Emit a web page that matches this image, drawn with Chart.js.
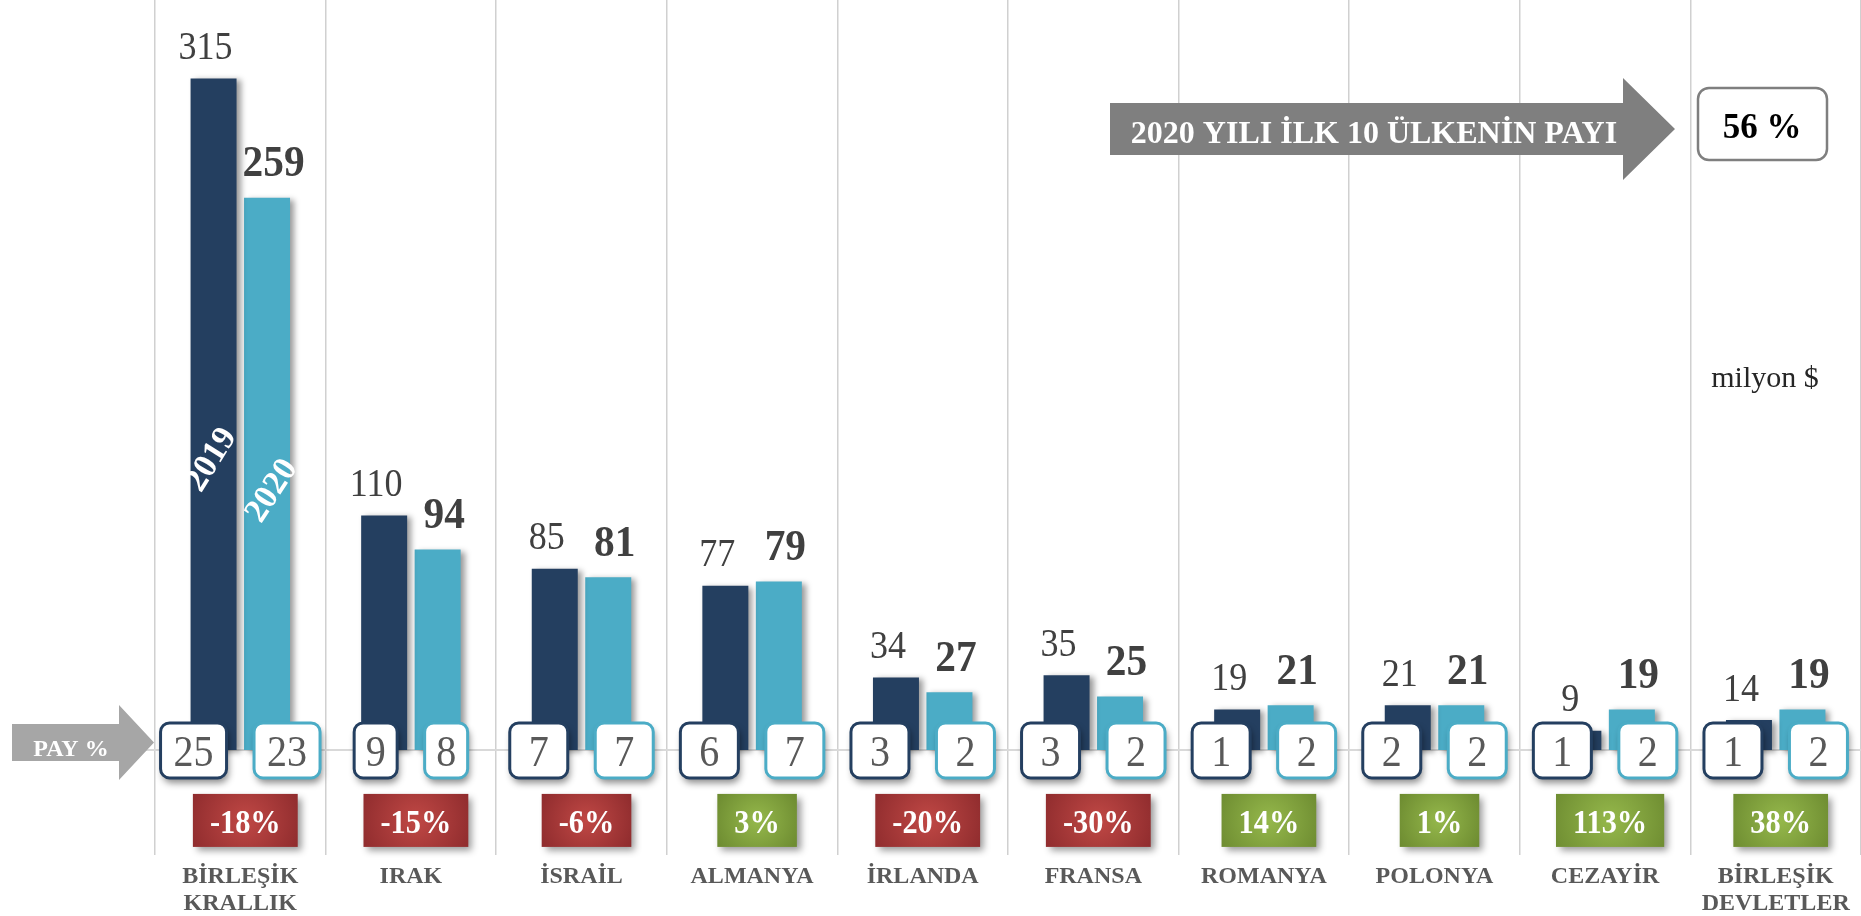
<!DOCTYPE html>
<html>
<head>
<meta charset="utf-8">
<title>2020 yılı ilk 10 ülke</title>
<script src="https://cdn.jsdelivr.net/npm/chart.js@4.4.1/dist/chart.umd.min.js"></script>
<style>
  html, body { margin: 0; padding: 0; background: #fff; }
  #wrap { width: 1861px; height: 916px; position: relative; }
</style>
</head>
<body>
<div id="wrap"><canvas id="chart"></canvas></div>
<script>
var categories = [["BİRLEŞİK", "KRALLIK"], "IRAK", "İSRAİL", "ALMANYA", "İRLANDA", "FRANSA", "ROMANYA", "POLONYA", "CEZAYİR", ["BİRLEŞİK", "DEVLETLER"]];
var values2019 = [315, 110, 85, 77, 34, 35, 19, 21, 9, 14];
var values2020 = [259, 94, 81, 79, 27, 25, 21, 21, 19, 19];
var share2019 = [25, 9, 7, 6, 3, 3, 1, 2, 1, 1];
var share2020 = [23, 8, 7, 7, 2, 2, 2, 2, 2, 2];
var changePct = [-18, -15, -6, 3, -20, -30, 14, 1, 113, 38];
var seriesNames = ["2019", "2020"];
var topTitle = "2020 YILI İLK 10 ÜLKENİN PAYI";
var top10Share = "56 %";
var shareTitle = "PAY %";
var unitText = "milyon $";

var SERIF = "'Liberation Serif', 'Times New Roman', serif";
var DARK = "#243f60";
var LIGHT = "#4bacc6";
// widths of the small share boxes (layout only)
var shareBoxW = [66, 43, 58, 58, 58, 58, 58, 58, 58, 58];

function drawText(ctx, s, x, y, size, weight, color, sx) {
	ctx.save();
	ctx.translate(x, y);
	ctx.scale(sx || 1, 1);
	ctx.font = weight + " " + size + "px " + SERIF;
	ctx.fillStyle = color;
	ctx.textAlign = "center";
	ctx.textBaseline = "alphabetic";
	ctx.fillText(s, 0, 0);
	ctx.restore();
}

function shareBox(ctx, s, x, y0, w, color) {
	var top = y0 - 27, h = 55;
	ctx.save();
	ctx.shadowColor = "rgba(0,0,0,0.45)";
	ctx.shadowBlur = 7;
	ctx.shadowOffsetX = 2;
	ctx.shadowOffsetY = 5;
	ctx.beginPath();
	ctx.roundRect(x, top, w, h, 9);
	ctx.fillStyle = "#fff";
	ctx.fill();
	ctx.shadowColor = "transparent";
	ctx.lineWidth = 3;
	ctx.strokeStyle = color;
	ctx.stroke();
	ctx.restore();
	drawText(ctx, s, x + w / 2, y0 + 16, 44, "normal", "#595959", 0.91);
}

function changeBox(ctx, v, cx, y0) {
	var s = v + "%";
	ctx.save();
	ctx.font = "bold 33px " + SERIF;
	var w = ctx.measureText(s).width * 0.92 + 34;
	var top = y0 + 44, h = 53;
	var g = ctx.createRadialGradient(cx, top + h / 2, 0, cx, top + h / 2, w * 0.6);
	if (v < 0) {
		g.addColorStop(0, "#c04845");
		g.addColorStop(1, "#8c2a2c");
	} else {
		g.addColorStop(0, "#95b84b");
		g.addColorStop(1, "#6c8a30");
	}
	ctx.shadowColor = "rgba(0,0,0,0.4)";
	ctx.shadowBlur = 7;
	ctx.shadowOffsetX = 4;
	ctx.shadowOffsetY = 4;
	ctx.fillStyle = g;
	ctx.fillRect(cx - w / 2, top, w, h);
	ctx.restore();
	drawText(ctx, s, cx, top + 39, 33, "bold", "#fff", 0.92);
}

function rotText(ctx, s, x, y, deg) {
	ctx.save();
	ctx.translate(x, y);
	ctx.rotate(deg * Math.PI / 180);
	ctx.font = "bold 34px " + SERIF;
	ctx.fillStyle = "#fff";
	ctx.textAlign = "center";
	ctx.textBaseline = "middle";
	ctx.fillText(s, 0, 0);
	ctx.restore();
}

function arrow(ctx, x1, x2, x3, yc, bodyH, headH, color) {
	ctx.beginPath();
	ctx.moveTo(x1, yc - bodyH / 2);
	ctx.lineTo(x2, yc - bodyH / 2);
	ctx.lineTo(x2, yc - headH / 2);
	ctx.lineTo(x3, yc);
	ctx.lineTo(x2, yc + headH / 2);
	ctx.lineTo(x2, yc + bodyH / 2);
	ctx.lineTo(x1, yc + bodyH / 2);
	ctx.closePath();
	ctx.fillStyle = color;
	ctx.fill();
}

var decorations = {
	id: "decorations",
	beforeDatasetsDraw: function (chart) {
		var ctx = chart.ctx;
		var y0 = chart.scales.y.getPixelForValue(0);
		ctx.save();
		ctx.strokeStyle = "#d9d9d9";
		ctx.lineWidth = 2;
		ctx.beginPath();
		ctx.moveTo(140, y0);
		ctx.lineTo(chart.width, y0);
		ctx.stroke();
		ctx.restore();
	},
	beforeDatasetDraw: function (chart) {
		var ctx = chart.ctx;
		ctx.save();
		ctx.shadowColor = "rgba(0,0,0,0.4)";
		ctx.shadowBlur = 6;
		ctx.shadowOffsetX = 4;
		ctx.shadowOffsetY = 2;
	},
	afterDatasetDraw: function (chart) {
		chart.ctx.restore();
	},
	afterDatasetsDraw: function (chart) {
		var ctx = chart.ctx;
		var xs = chart.scales.x, ys = chart.scales.y;
		var y0 = ys.getPixelForValue(0);
		var m0 = chart.getDatasetMeta(0).data;
		var m1 = chart.getDatasetMeta(1).data;

		// year names inside the first pair of bars
		rotText(ctx, seriesNames[0], m0[0].x - 2, y0 - 290, -58);
		rotText(ctx, seriesNames[1], m1[0].x + 5, y0 - 259, -57);

		for (var i = 0; i < categories.length; i++) {
			drawText(ctx, String(values2019[i]), m0[i].x - 8, m0[i].y - 19.5, 40, "normal", "#404040", 0.9);
			drawText(ctx, String(values2020[i]), m1[i].x + 6.5, m1[i].y - 21.5, 44, "bold", "#404040", 0.94);

			var w = shareBoxW[i];
			shareBox(ctx, String(share2019[i]), m0[i].x + 13 - w, y0, w, DARK);
			shareBox(ctx, String(share2020[i]), m1[i].x - 13, y0, w, LIGHT);

			changeBox(ctx, changePct[i], xs.getPixelForValue(i) + 5, y0);
		}

		// PAY % arrow on the left
		ctx.save();
		arrow(ctx, 12, 119, 154, y0 - 7.5, 37, 75, "#a6a6a6");
		ctx.restore();
		drawText(ctx, shareTitle, 71, y0 + 6, 24, "bold", "#fff", 1);

		// top arrow and total box
		ctx.save();
		arrow(ctx, 1110, 1623, 1675, 129, 52, 102, "#7f7f7f");
		ctx.restore();
		drawText(ctx, topTitle, 1374, 143, 32, "bold", "#fff", 1);

		ctx.save();
		ctx.beginPath();
		ctx.roundRect(1698, 88, 129, 72, 11);
		ctx.fillStyle = "#fff";
		ctx.fill();
		ctx.lineWidth = 2.5;
		ctx.strokeStyle = "#7f7f7f";
		ctx.stroke();
		ctx.restore();
		drawText(ctx, top10Share, 1762, 138, 35, "bold", "#000", 1);

		drawText(ctx, unitText, 1765, 387, 30, "normal", "#262626", 1);
	}
};

var ctx = document.getElementById("chart").getContext("2d");
var myChart = new Chart(ctx, {
	type: "bar",
	data: {
		labels: categories,
		datasets: [
			{
				label: seriesNames[0],
				data: values2019,
				backgroundColor: DARK,
				categoryPercentage: 0.627,
				barPercentage: 0.86,
			},
			{
				label: seriesNames[1],
				data: values2020,
				backgroundColor: LIGHT,
				categoryPercentage: 0.627,
				barPercentage: 0.86,
			},
		],
	},
	options: {
		responsive: true,
		maintainAspectRatio: false,
		animation: false,
		devicePixelRatio: 1,
		layout: {
			padding: { left: 155, right: 0, top: 0, bottom: -9 },
		},
		scales: {
			x: {
				grid: { offset: true, color: "#d0d0d0", lineWidth: 1.5, drawTicks: false },
				border: { display: false },
				ticks: {
					color: "#595959",
					padding: 8,
					autoSkip: false,
					maxRotation: 0,
					font: { family: SERIF, size: 24, weight: "bold", lineHeight: 1.125 },
				},
			},
			y: {
				display: false,
				min: -49.3,
				max: 351.8,
			},
		},
		plugins: {
			legend: { display: false },
			tooltip: { enabled: false },
		},
	},
	plugins: [decorations],
});
</script>
</body>
</html>
